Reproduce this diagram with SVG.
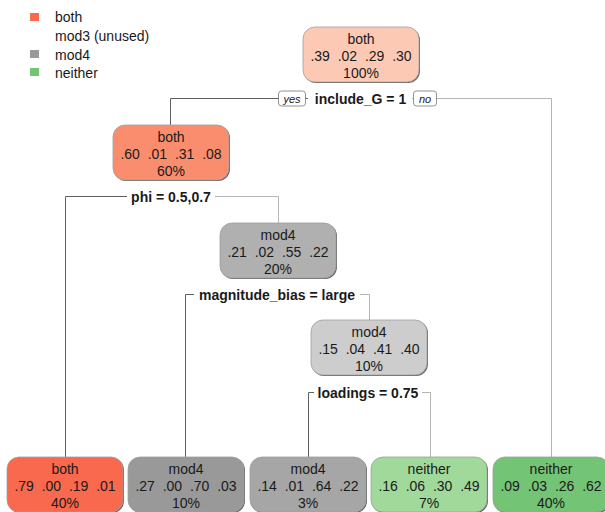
<svg xmlns="http://www.w3.org/2000/svg" width="605" height="512" viewBox="0 0 605 512">
  <style>
    text { font-family: "Liberation Sans", Arial, sans-serif; fill: #1a1a1a; }
    .nt { font-size: 14px; text-anchor: middle; white-space: pre; }
    .split { font-size: 14px; font-weight: bold; text-anchor: middle; }
    .yn { font-size: 11px; font-style: italic; text-anchor: middle; }
    .leg { font-size: 14px; }
    .shadow { fill: #666666; }
    .box { stroke: #a0a0a0; stroke-width: 0.8; }
    .ynbox { fill: #ffffff; stroke: #777777; stroke-width: 0.8; }
    .bl { fill: none; stroke: #5f5f5f; stroke-width: 1; }
    .br { fill: none; stroke: #b5b5b5; stroke-width: 1; }
    .lab { fill: #ffffff; }
  </style>

  <!-- legend -->
  <g id="legend">
    <rect x="30" y="13" width="9" height="8" fill="#F8694E"/>
    <text class="leg" x="55" y="22">both</text>
    <text class="leg" x="55" y="41">mod3 (unused)</text>
    <rect x="30" y="50" width="9" height="8" fill="#999999"/>
    <text class="leg" x="55" y="60">mod4</text>
    <rect x="30" y="68" width="9" height="8" fill="#74C476"/>
    <text class="leg" x="55" y="78">neither</text>
  </g>

  <!-- branches -->
  <g id="connectors">
    <!-- include_G split -->
    <path class="bl" d="M360.5,98.5 H170.5 V125"/>
    <path class="br" d="M360.5,98.5 H551.5 V457"/>
    <!-- phi split -->
    <path class="bl" d="M171,196.5 H65.5 V457"/>
    <path class="br" d="M171,196.5 H278.5 V223"/>
    <!-- magnitude_bias split -->
    <path class="bl" d="M278,294.5 H185.5 V457"/>
    <path class="br" d="M278,294.5 H369.5 V320"/>
    <!-- loadings split -->
    <path class="bl" d="M369,392.5 H308.5 V457"/>
    <path class="br" d="M369,392.5 H430.5 V457"/>
  </g>

  <!-- split labels -->
  <g id="split-include_G">
    <rect class="lab" x="308" y="90" width="104" height="16"/>
    <text class="split" x="360.5" y="104">include_G = 1</text>
    <rect class="ynbox" x="278.5" y="91" width="27" height="15" rx="3"/>
    <text class="yn" x="292" y="102.5">yes</text>
    <rect class="ynbox" x="413.5" y="91" width="23" height="15" rx="3"/>
    <text class="yn" x="425" y="102.5">no</text>
  </g>
  <g id="split-phi">
    <rect class="lab" x="127" y="189" width="88" height="16"/>
    <text class="split" x="171" y="201.5">phi = 0.5,0.7</text>
  </g>
  <g id="split-magnitude_bias">
    <rect class="lab" x="194" y="287" width="166" height="16"/>
    <text class="split" x="277" y="299.5">magnitude_bias = large</text>
  </g>
  <g id="split-loadings">
    <rect class="lab" x="314" y="385" width="108" height="16"/>
    <text class="split" x="368" y="397.5">loadings = 0.75</text>
  </g>

  <!-- root node -->
  <g id="node1">
    <rect class="shadow" x="304" y="28" width="116" height="55" rx="12"/>
    <rect class="box" x="303" y="27" width="116" height="55" rx="12" fill="#FCC9B5"/>
    <text class="nt" x="361" y="44">both</text>
    <text class="nt" x="361" y="61" xml:space="preserve">.39  .02  .29  .30</text>
    <text class="nt" x="361" y="78">100%</text>
  </g>

  <g id="node2">
    <rect class="shadow" x="114" y="126" width="116" height="55" rx="12"/>
    <rect class="box" x="113" y="125" width="116" height="55" rx="12" fill="#FA8D6E"/>
    <text class="nt" x="171" y="142">both</text>
    <text class="nt" x="171" y="159" xml:space="preserve">.60  .01  .31  .08</text>
    <text class="nt" x="171" y="176">60%</text>
  </g>

  <g id="node5">
    <rect class="shadow" x="221" y="224" width="116" height="55" rx="12"/>
    <rect class="box" x="220" y="223" width="116" height="55" rx="12" fill="#B0B0B0"/>
    <text class="nt" x="278" y="240">mod4</text>
    <text class="nt" x="278" y="257" xml:space="preserve">.21  .02  .55  .22</text>
    <text class="nt" x="278" y="274">20%</text>
  </g>

  <g id="node11">
    <rect class="shadow" x="312" y="321" width="116" height="55" rx="12"/>
    <rect class="box" x="311" y="320" width="116" height="55" rx="12" fill="#CDCDCD"/>
    <text class="nt" x="369" y="337">mod4</text>
    <text class="nt" x="369" y="354" xml:space="preserve">.15  .04  .41  .40</text>
    <text class="nt" x="369" y="371">10%</text>
  </g>

  <!-- leaves -->
  <g id="leaf4">
    <rect class="shadow" x="8" y="458" width="116" height="55" rx="12"/>
    <rect class="box" x="7" y="457" width="116" height="55" rx="12" fill="#F8694E"/>
    <text class="nt" x="65" y="474">both</text>
    <text class="nt" x="65" y="491" xml:space="preserve">.79  .00  .19  .01</text>
    <text class="nt" x="65" y="508">40%</text>
  </g>

  <g id="leaf10">
    <rect class="shadow" x="129" y="458" width="116" height="55" rx="12"/>
    <rect class="box" x="128" y="457" width="116" height="55" rx="12" fill="#999999"/>
    <text class="nt" x="186" y="474">mod4</text>
    <text class="nt" x="186" y="491" xml:space="preserve">.27  .00  .70  .03</text>
    <text class="nt" x="186" y="508">10%</text>
  </g>

  <g id="leaf22">
    <rect class="shadow" x="251" y="458" width="116" height="55" rx="12"/>
    <rect class="box" x="250" y="457" width="116" height="55" rx="12" fill="#A6A6A6"/>
    <text class="nt" x="308" y="474">mod4</text>
    <text class="nt" x="308" y="491" xml:space="preserve">.14  .01  .64  .22</text>
    <text class="nt" x="308" y="508">3%</text>
  </g>

  <g id="leaf23">
    <rect class="shadow" x="372" y="458" width="116" height="55" rx="12"/>
    <rect class="box" x="371" y="457" width="116" height="55" rx="12" fill="#A1D99B"/>
    <text class="nt" x="429" y="474">neither</text>
    <text class="nt" x="429" y="491" xml:space="preserve">.16  .06  .30  .49</text>
    <text class="nt" x="429" y="508">7%</text>
  </g>

  <g id="leaf3">
    <rect class="shadow" x="494" y="458" width="116" height="55" rx="12"/>
    <rect class="box" x="493" y="457" width="116" height="55" rx="12" fill="#74C476"/>
    <text class="nt" x="551" y="474">neither</text>
    <text class="nt" x="551" y="491" xml:space="preserve">.09  .03  .26  .62</text>
    <text class="nt" x="551" y="508">40%</text>
  </g>
</svg>
